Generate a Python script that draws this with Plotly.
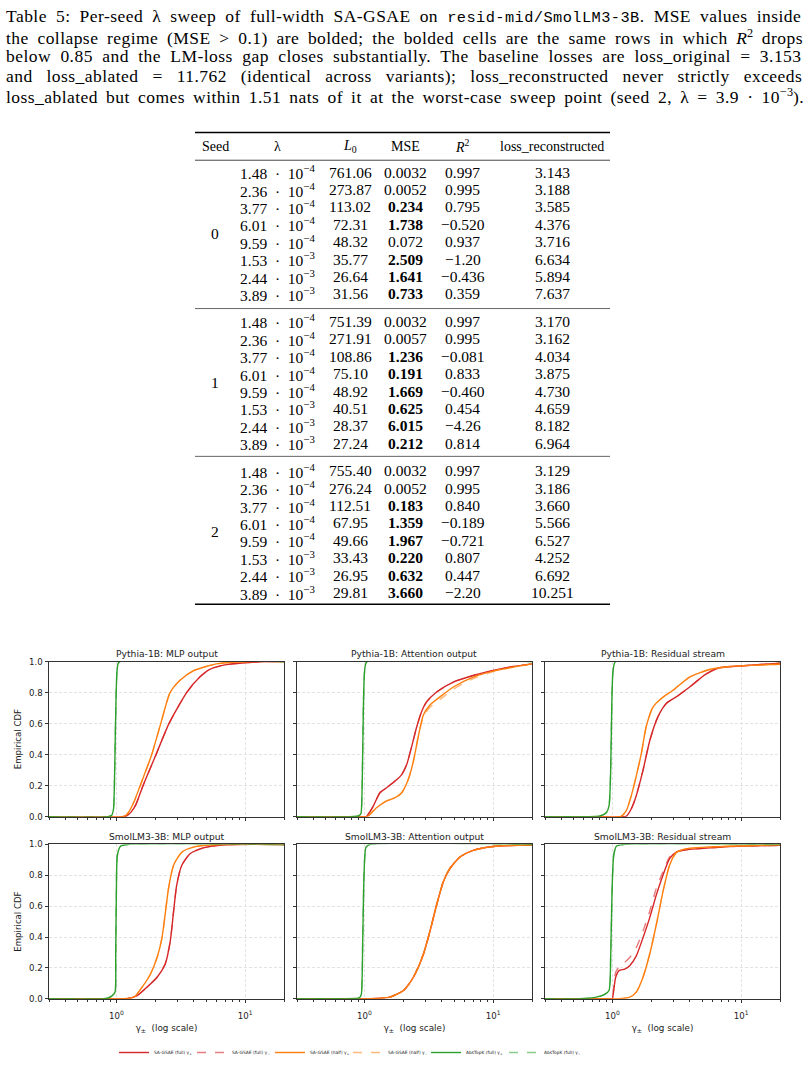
import math
import plotly.graph_objects as go

W, H = 808, 1067

# ---------------- Table data ----------------
lam_mant = ["1.48", "2.36", "3.77", "6.01", "9.59", "1.53", "2.44", "3.89"]
lam_exp = [-4, -4, -4, -4, -4, -3, -3, -3]
seeds = ["0", "1", "2"]
l0_s0 = ["761.06", "273.87", "113.02", "72.31", "48.32", "35.77", "26.64", "31.56"]
l0_s1 = ["751.39", "271.91", "108.86", "75.10", "48.92", "40.51", "28.37", "27.24"]
l0_s2 = ["755.40", "276.24", "112.51", "67.95", "49.66", "33.43", "26.95", "29.81"]
mse_s0 = ["0.0032", "0.0052", "0.234", "1.738", "0.072", "2.509", "1.641", "0.733"]
mse_s1 = ["0.0032", "0.0057", "1.236", "0.191", "1.669", "0.625", "6.015", "0.212"]
mse_s2 = ["0.0032", "0.0052", "0.183", "1.359", "1.967", "0.220", "0.632", "3.660"]
r2_s0 = ["0.997", "0.995", "0.795", "−0.520", "0.937", "−1.20", "−0.436", "0.359"]
r2_s1 = ["0.997", "0.995", "−0.081", "0.833", "−0.460", "0.454", "−4.26", "0.814"]
r2_s2 = ["0.997", "0.995", "0.840", "−0.189", "−0.721", "0.807", "0.447", "−2.20"]
loss_s0 = ["3.143", "3.188", "3.585", "4.376", "3.716", "6.634", "5.894", "7.637"]
loss_s1 = ["3.170", "3.162", "4.034", "3.875", "4.730", "4.659", "8.182", "6.964"]
loss_s2 = ["3.129", "3.186", "3.660", "5.566", "6.527", "4.252", "6.692", "10.251"]
headers = ["Seed", "λ", "<i>L</i><sub>0</sub>", "MSE", "<i>R</i><sup>2</sup>", "loss_reconstructed"]

# caption lines as (text, style) segments
caption_lines = [
    [("Table 5: Per-seed λ sweep of full-width SA-GSAE on ", "n"), ("resid-mid/SmolLM3-3B", "mono"),
     (". MSE values inside", "n")],
    [("the collapse regime (MSE > 0.1) are bolded; the bolded cells are the same rows in which ", "n"),
     ("R", "i"), ("2", "sup"), (" drops", "n")],
    [("below 0.85 and the LM-loss gap closes substantially. The baseline losses are loss_original = 3.153", "n")],
    [("and loss_ablated = 11.762 (identical across variants); loss_reconstructed never strictly exceeds", "n")],
    [("loss_ablated but comes within 1.51 nats of it at the worst-case sweep point (seed 2, λ = 3.9 · 10", "n"),
     ("−3", "sup"), (").", "n")],
]

# ---------------- CDF data (gamma, empirical CDF) ----------------
panel_titles = ["Pythia-1B: MLP output", "Pythia-1B: Attention output", "Pythia-1B: Residual stream",
                "SmolLM3-3B: MLP output", "SmolLM3-3B: Attention output", "SmolLM3-3B: Residual stream"]

# Panel 1: Pythia-1B MLP
p1_red_x = [0.30, 1.12, 1.19, 1.30, 1.42, 1.61, 2.03, 2.56, 3.51, 4.44, 5.31, 7.13, 14.5, 20]
p1_red_y = [0, 0, 0.005, 0.03, 0.08, 0.2, 0.4, 0.6, 0.8, 0.9, 0.95, 0.98, 1.0, 1.0]
p1_org_x = [0.30, 1.10, 1.17, 1.245, 1.36, 1.53, 1.88, 2.21, 2.61, 3.12, 3.95, 5.97, 10.8, 20]
p1_org_y = [0, 0, 0.005, 0.03, 0.09, 0.2, 0.4, 0.6, 0.8, 0.88, 0.94, 0.985, 1.0, 1.0]
p1_grn_x = [0.30, 0.86, 0.92, 0.95, 0.965, 0.98, 0.995, 1.01, 1.03, 1.06, 20]
p1_grn_y = [0, 0, 0.01, 0.05, 0.2, 0.5, 0.78, 0.93, 0.985, 1.0, 1.0]

# Panel 2: Pythia-1B Attention
p2_red_x = [0.30, 1.0, 1.03, 1.10, 1.175, 1.32, 1.49, 1.73, 1.95, 2.13, 2.33, 2.55, 2.78, 3.04, 3.64, 4.9, 7.0, 10, 14.3, 20]
p2_red_y = [0, 0, 0, 0.03, 0.07, 0.155, 0.187, 0.23, 0.272, 0.336, 0.453, 0.58, 0.677, 0.74, 0.804, 0.868, 0.91, 0.943, 0.968, 0.985]
p2_org_x = [0.30, 1.03, 1.055, 1.15, 1.25, 1.49, 1.73, 1.95, 2.19, 2.4, 2.62, 2.87, 3.23, 3.86, 4.9, 7.0, 10, 14.3, 20]
p2_org_y = [0, 0, 0, 0.03, 0.06, 0.102, 0.123, 0.155, 0.24, 0.357, 0.517, 0.655, 0.72, 0.772, 0.836, 0.9, 0.938, 0.964, 0.985]
p2_orgm_y = [0, 0, 0, 0.03, 0.06, 0.102, 0.123, 0.155, 0.24, 0.357, 0.517, 0.645, 0.705, 0.755, 0.822, 0.89, 0.935, 0.963, 0.985]
p2_grn_x = [0.30, 0.75, 0.90, 0.94, 0.955, 0.97, 0.985, 1.0, 1.02, 1.05, 20]
p2_grn_y = [0, 0, 0.005, 0.02, 0.1, 0.4, 0.75, 0.92, 0.98, 1.0, 1.0]

# Panel 3: Pythia-1B Residual
p3_red_x = [0.30, 1.20, 1.28, 1.40, 1.53, 1.73, 1.95, 2.26, 2.62, 3.13, 3.98, 5.35, 6.79, 9.14, 20]
p3_red_y = [0, 0, 0.003, 0.05, 0.134, 0.30, 0.49, 0.645, 0.73, 0.772, 0.836, 0.92, 0.96, 0.97, 0.989]
p3_org_x = [0.30, 1.10, 1.17, 1.28, 1.40, 1.53, 1.68, 1.83, 2.07, 2.40, 2.95, 3.98, 5.68, 8.12, 20]
p3_org_y = [0, 0, 0.003, 0.038, 0.134, 0.26, 0.41, 0.58, 0.708, 0.762, 0.815, 0.9, 0.949, 0.968, 0.982]
p3_grn_x = [0.30, 0.47, 0.80, 0.90, 0.942, 0.97, 0.99, 1.012, 1.06, 20]
p3_grn_y = [0, 0, 0.005, 0.028, 0.07, 0.30, 0.73, 0.94, 1.0, 1.0]

# Panel 4: SmolLM3-3B MLP
p4_red_x = [0.30, 1.17, 1.215, 1.45, 1.73, 2.07, 2.39, 2.62, 2.78, 2.94, 3.22, 3.73, 4.72, 7.14, 20]
p4_red_y = [0, 0, 0, 0.02, 0.075, 0.139, 0.224, 0.374, 0.566, 0.737, 0.865, 0.94, 0.978, 0.998, 1.0]
p4_org_x = [0.30, 1.10, 1.146, 1.37, 1.585, 1.84, 2.07, 2.26, 2.39, 2.54, 2.78, 3.22, 3.96, 5.64, 20]
p4_org_y = [0, 0, 0, 0.01, 0.075, 0.16, 0.267, 0.395, 0.545, 0.716, 0.865, 0.95, 0.983, 0.998, 1.0]
p4_grn_x = [0.30, 0.80, 0.853, 0.93, 0.977, 0.988, 1.0, 1.018, 1.08, 1.215, 20]
p4_grn_y = [0, 0, 0.003, 0.02, 0.043, 0.27, 0.69, 0.93, 0.99, 1.0, 1.0]

# Panel 5: SmolLM3-3B Attention
p5_red_x = [0.30, 1.05, 1.106, 1.58, 2.01, 2.40, 2.87, 3.23, 3.64, 4.10, 4.61, 5.52, 7.0, 10, 20]
p5_red_y = [0, 0, 0, 0.01, 0.053, 0.139, 0.288, 0.438, 0.609, 0.758, 0.844, 0.919, 0.962, 0.987, 0.998]
p5_org_x = [0.30, 1.05, 1.106, 1.58, 2.01, 2.40, 2.87, 3.23, 3.64, 4.10, 4.61, 5.52, 7.0, 10, 20]
p5_org_y = [0, 0, 0, 0.01, 0.053, 0.139, 0.288, 0.438, 0.609, 0.758, 0.844, 0.919, 0.962, 0.987, 0.998]
p5_grn_x = [0.30, 0.65, 0.90, 0.925, 0.948, 0.971, 0.994, 1.03, 1.106, 20]
p5_grn_y = [0, 0, 0.003, 0.01, 0.03, 0.374, 0.80, 0.983, 1.0, 1.0]

# Panel 6: SmolLM3-3B Residual
p6_red_x = [0.30, 0.99, 1.0, 1.024, 1.061, 1.126, 1.246, 1.363, 1.534, 1.728, 1.947, 2.194, 2.47, 2.78, 3.13, 3.97, 6.02, 10, 20]
p6_red_y = [0, 0, 0, 0.053, 0.139, 0.182, 0.192, 0.214, 0.278, 0.395, 0.524, 0.673, 0.801, 0.908, 0.951, 0.968, 0.979, 0.989, 0.994]
p6_redm_y = [0, 0, 0, 0.075, 0.171, 0.207, 0.235, 0.267, 0.331, 0.438, 0.566, 0.716, 0.823, 0.919, 0.953, 0.968, 0.979, 0.989, 0.994]
p6_org_x = [0.30, 1.10, 1.14, 1.363, 1.534, 1.728, 1.947, 2.194, 2.47, 2.78, 3.13, 3.74, 6.02, 20]
p6_org_y = [0, 0, 0, 0.01, 0.043, 0.139, 0.288, 0.481, 0.694, 0.865, 0.947, 0.972, 0.985, 0.998]
p6_grn_x = [0.30, 0.558, 0.751, 0.872, 0.942, 0.97, 0.994, 1.024, 1.074, 1.21, 20]
p6_grn_y = [0, 0, 0.01, 0.028, 0.053, 0.267, 0.694, 0.929, 0.989, 1.0, 1.0]

series_names = ["SA-GSAE (full) γ<sub>+</sub>", "SA-GSAE (full) γ<sub>−</sub>",
                "SA-GSAE (half) γ<sub>+</sub>", "SA-GSAE (half) γ<sub>−</sub>",
                "AbsTopK (full) γ<sub>+</sub>", "AbsTopK (full) γ<sub>−</sub>"]

panels = [
    [(p1_red_x, p1_red_y), (p1_red_x, p1_red_y), (p1_org_x, p1_org_y), (p1_org_x, p1_org_y), (p1_grn_x, p1_grn_y), (p1_grn_x, p1_grn_y)],
    [(p2_red_x, p2_red_y), (p2_red_x, p2_red_y), (p2_org_x, p2_org_y), (p2_org_x, p2_orgm_y), (p2_grn_x, p2_grn_y), (p2_grn_x, p2_grn_y)],
    [(p3_red_x, p3_red_y), (p3_red_x, p3_red_y), (p3_org_x, p3_org_y), (p3_org_x, p3_org_y), (p3_grn_x, p3_grn_y), (p3_grn_x, p3_grn_y)],
    [(p4_red_x, p4_red_y), (p4_red_x, p4_red_y), (p4_org_x, p4_org_y), (p4_org_x, p4_org_y), (p4_grn_x, p4_grn_y), (p4_grn_x, p4_grn_y)],
    [(p5_red_x, p5_red_y), (p5_red_x, p5_red_y), (p5_org_x, p5_org_y), (p5_org_x, p5_org_y), (p5_grn_x, p5_grn_y), (p5_grn_x, p5_grn_y)],
    [(p6_red_x, p6_red_y), (p6_red_x, p6_redm_y), (p6_org_x, p6_org_y), (p6_org_x, p6_org_y), (p6_grn_x, p6_grn_y), (p6_grn_x, p6_grn_y)],
]

styles = [
    dict(color="#d62728", dash="solid"),
    dict(color="rgba(214,39,40,0.6)", dash="dash"),
    dict(color="#ff7f0e", dash="solid"),
    dict(color="rgba(255,127,14,0.55)", dash="dash"),
    dict(color="#2ca02c", dash="solid"),
    dict(color="rgba(44,160,44,0.55)", dash="dash"),
]


def fx(px):
    return px / W


def fy(px):
    return 1 - px / H


# Times (Liberation Serif) advance widths, 1/1000 em, for justification
TIMES = {' ': 250, '(': 333, ')': 333, ',': 250, '-': 333, '.': 250, '/': 278, ':': 278, ';': 278,
         '<': 564, '=': 564, '>': 564, '_': 500, 'λ': 500, '·': 250, '−': 564}
for ch in "0123456789":
    TIMES[ch] = 500
TIMES.update(dict(zip("ABCDEFGHIJKLMNOPQRSTUVWXYZ",
                      [722, 667, 667, 722, 611, 556, 722, 722, 333, 389, 722, 611, 889, 722, 722, 556, 722, 667,
                       556, 611, 722, 722, 944, 722, 722, 611])))
TIMES.update(dict(zip("abcdefghijklmnopqrstuvwxyz",
                      [444, 500, 444, 500, 444, 333, 500, 500, 278, 278, 500, 278, 778, 500, 500, 500, 500, 333,
                       389, 278, 500, 500, 722, 500, 500, 444])))

CAP_FS = 17.5
MONO_FS = 15.3
LS = 0.45
CAP_X0, CAP_X1 = 4, 801


def esc(t):
    return t.replace("&", "&amp;").replace("<", "&lt;").replace(">", "&gt;")


def build_line(segs):
    base = 0.0
    nspace = 0
    for t, st in segs:
        if st == "n":
            base += sum(TIMES.get(ch, 500) for ch in t) * CAP_FS / 1000 + LS * len(t)
            nspace += t.count(" ")
        elif st == "mono":
            base += 600 * len(t) * MONO_FS / 1000 + LS * len(t)
        elif st == "i":
            base += 611 * CAP_FS / 1000
        elif st == "sup":
            base += sum(TIMES.get(ch, 500) for ch in t) * 0.7 * CAP_FS / 1000
    ws = (CAP_X1 - CAP_X0 - base) / max(nspace, 1)
    html = ""
    for t, st in segs:
        if st == "n":
            html += f"<span style=\"letter-spacing:{LS}px;word-spacing:{ws:.2f}px\">{esc(t)}</span>"
        elif st == "mono":
            html += (f"<span style=\"font-family:Liberation Mono;font-size:{MONO_FS}px;"
                     f"letter-spacing:{LS}px\">{esc(t)}</span>")
        elif st == "i":
            html += f"<i>{esc(t)}</i>"
        elif st == "sup":
            html += f"<sup>{esc(t)}</sup>"
    return html


fig = go.Figure()

# ---------------- Caption ----------------
cap_y = [12, 32, 52, 72, 92]
for segs, y in zip(caption_lines, cap_y):
    fig.add_annotation(x=fx(CAP_X0), y=fy(y), xref="paper", yref="paper",
                       text=build_line(segs),
                       showarrow=False, xanchor="left", yanchor="middle",
                       font=dict(family="Liberation Serif", size=CAP_FS, color="black"))

# ---------------- Table ----------------
col_x = [215, 277, 350, 405, 463, 552]
tfont = dict(family="Liberation Serif", size=15.5, color="black")
for cx, h in zip(col_x, headers):
    fig.add_annotation(x=fx(cx), y=fy(143), xref="paper", yref="paper", text=h, showarrow=False,
                       xanchor="center", yanchor="middle", font=dict(family="Liberation Serif", size=14, color="black"))

block_top = [169, 320, 471]
row_step = 17.6
l0_all = [l0_s0, l0_s1, l0_s2]
mse_all = [mse_s0, mse_s1, mse_s2]
r2_all = [r2_s0, r2_s1, r2_s2]
loss_all = [loss_s0, loss_s1, loss_s2]
for k in range(3):
    for i in range(8):
        yy = block_top[k] + i * row_step
        mse = mse_all[k][i]
        mse_txt = f"<b>{mse}</b>" if float(mse) > 0.1 else mse
        cells = [f"{lam_mant[i]}\u2002·\u200210<sup>−{abs(lam_exp[i])}</sup>", l0_all[k][i], mse_txt,
                 r2_all[k][i], loss_all[k][i]]
        for cx, c in zip(col_x[1:], cells):
            fig.add_annotation(x=fx(cx), y=fy(yy), xref="paper", yref="paper", text=c, showarrow=False,
                               xanchor="center", yanchor="middle", font=tfont)
    fig.add_annotation(x=fx(col_x[0]), y=fy(block_top[k] + 3.5 * row_step), xref="paper", yref="paper",
                       text=seeds[k], showarrow=False, xanchor="center", yanchor="middle", font=tfont)

rules = [(129, 1.6, "black"), (157, 0.9, "#333"), (307, 0.9, "#555"), (456.5, 0.9, "#555"), (606, 1.6, "black")]
for y, w, c in rules:
    fig.add_shape(type="line", xref="paper", yref="paper", x0=fx(195), x1=fx(610), y0=fy(y), y1=fy(y),
                  line=dict(color=c, width=w))

# ---------------- Panels ----------------
xl = [49, 297, 545]
xr = [284, 532, 780]
yt = [664, 849]
yb = [821, 1005]
minor_vals = [0.3, 0.4, 0.5, 0.6, 0.7, 0.8, 0.9, 2, 3, 4, 5, 6, 7, 8, 9, 20]
tickfont = dict(family="DejaVu Sans", size=8.6, color="#222")
grid_col = "#e3e3e3"

for p in range(6):
    r, c = divmod(p, 3)
    n = p + 1
    xs = "x" if n == 1 else f"x{n}"
    ys = "y" if n == 1 else f"y{n}"
    for s in range(6):
        xv, yv = panels[p][s]
        fig.add_trace(go.Scatter(
            x=xv, y=yv, xaxis=xs, yaxis=ys, mode="lines", name=series_names[s],
            legendgroup=str(s), showlegend=(p == 0),
            line=dict(color=styles[s]["color"], dash=styles[s]["dash"], width=1.4, shape="spline", smoothing=0.6),
            hoverinfo="skip"))
    xa = dict(domain=[fx(xl[c]), fx(xr[c])], anchor=ys, type="log",
              range=[math.log10(0.3), math.log10(20)],
              tickvals=[1, 10], ticktext=["10<sup>0</sup>", "10<sup>1</sup>"],
              showticklabels=(r == 1), ticks="outside", ticklen=3.5, tickcolor="#333", tickwidth=0.8,
              ticklabelstandoff=5,
              minor=dict(tickmode="array", tickvals=minor_vals, ticks="outside", ticklen=2,
                         tickcolor="#333", tickwidth=0.6, showgrid=False),
              showgrid=True, gridcolor=grid_col, griddash="3px,2px", gridwidth=0.8,
              showline=True, mirror=True, linecolor="#333", linewidth=1, zeroline=False,
              tickfont=tickfont)
    if r == 1:
        xa["title"] = dict(text="γ<sub>±</sub>  (log scale)", font=dict(family="DejaVu Sans", size=8.8, color="#222"), standoff=5)
    ya = dict(domain=[fy(yb[r]), fy(yt[r])], anchor=xs, range=[0, 1],
              tickvals=[0, 0.2, 0.4, 0.6, 0.8, 1.0], ticktext=["0.0", "0.2", "0.4", "0.6", "0.8", "1.0"],
              showticklabels=(c == 0), ticks="outside", ticklen=3.5, tickcolor="#333", tickwidth=0.8,
              showgrid=True, gridcolor=grid_col, griddash="3px,2px", gridwidth=0.8,
              showline=True, mirror=True, linecolor="#333", linewidth=1, zeroline=False,
              tickfont=tickfont)
    if c == 0:
        ya["title"] = dict(text="Empirical CDF", font=dict(family="DejaVu Sans", size=8.6, color="#222"), standoff=6)
    xkey = "xaxis" if n == 1 else f"xaxis{n}"
    ykey = "yaxis" if n == 1 else f"yaxis{n}"
    fig.update_layout(**{xkey: xa, ykey: ya})
    fig.add_annotation(x=fx((xl[c] + xr[c]) / 2), y=fy(yt[r] - 8), xref="paper", yref="paper",
                       text=panel_titles[p], showarrow=False, xanchor="center", yanchor="middle",
                       font=dict(family="DejaVu Sans", size=9.2, color="#222"))

fig.update_layout(
    width=W, height=H, margin=dict(l=0, r=0, t=0, b=0),
    paper_bgcolor="white", plot_bgcolor="white",
    legend=dict(orientation="h", x=fx(114), y=fy(1045), xanchor="left", yanchor="top",
                font=dict(family="DejaVu Sans", size=4.4, color="#222"),
                itemwidth=30, entrywidth=33, entrywidthmode="pixels", bgcolor="rgba(0,0,0,0)"),
)

fig.write_html("out.html")
